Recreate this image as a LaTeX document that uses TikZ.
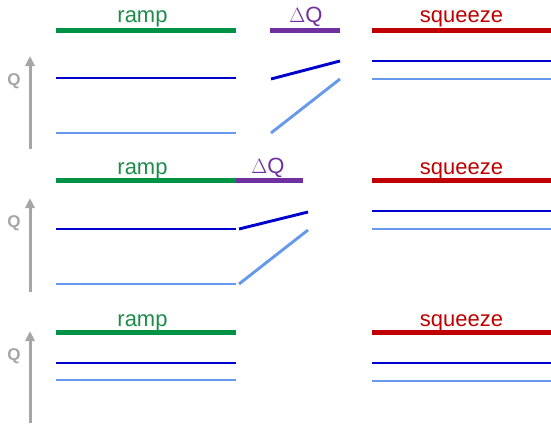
\documentclass[tikz,border=0pt]{standalone}
\usepackage{fontspec}
\setmainfont{Liberation Sans}
\usetikzlibrary{arrows.meta}
\definecolor{rampgreen}{RGB}{0,146,69}
\definecolor{ramptext}{RGB}{30,140,75}
\definecolor{sqred}{RGB}{192,0,0}
\definecolor{dqpurple}{RGB}{112,48,160}
\definecolor{dblue}{RGB}{0,0,204}
\definecolor{lblue}{RGB}{102,153,235}
\definecolor{axgray}{RGB}{166,166,166}
\tikzset{
  bar/.style={line width=5pt},
  hi/.style={dblue, line width=2.9pt},
  lo/.style={lblue, line width=2.9pt},
  qaxis/.style={axgray, line width=3pt, -{Triangle[width=9pt,length=10pt]}},
  lbl/.style={anchor=base, inner sep=0pt, font=\fontsize{22}{22}\selectfont},
  qlbl/.style={axgray, inner sep=0pt, font=\fontsize{17}{17}\selectfont\bfseries},
}
\begin{document}
\begin{tikzpicture}[x=1pt,y=-1pt]
\useasboundingbox (0,0) rectangle (551,423);
% ---------- panel 1 ----------
\draw[bar, rampgreen] (56,30) -- (236,30);
\draw[bar, dqpurple] (270,30) -- (340,30);
\draw[bar, sqred] (372,30) -- (551,30);
\node[lbl, ramptext] (ramp1) at (142.5,23) {ramp};
\node[lbl, dqpurple] (dq1) at (306,23) {$\Delta$Q};
\node[lbl, sqred] (sq1) at (461.5,23) {squeeze};
\draw[hi] (56,78) -- (236,78);
\draw[lo] (56,133) -- (236,133);
\draw[hi] (271,79) -- (340,61);
\draw[lo] (271,133) -- (340,79);
\draw[hi] (372,61) -- (551,61);
\draw[lo] (372,79) -- (551,79);
\draw[qaxis] (30,149) -- (30,56);
\node[qlbl] (q1) at (14,81) {Q};
% ---------- panel 2 ----------
\draw[bar, rampgreen] (56,180) -- (236,180);
\draw[bar, dqpurple] (236,180) -- (303,180);
\draw[bar, sqred] (372,180) -- (551,180);
\node[lbl, ramptext] (ramp2) at (142.5,174) {ramp};
\node[lbl, dqpurple] (dq2) at (268,173) {$\Delta$Q};
\node[lbl, sqred] (sq2) at (461.5,174) {squeeze};
\draw[hi] (56,229) -- (236,229);
\draw[lo] (56,284) -- (236,284);
\draw[hi] (239,229) -- (308,212);
\draw[lo] (239,284) -- (308,230);
\draw[hi] (372,211) -- (551,211);
\draw[lo] (372,229) -- (551,229);
\draw[qaxis] (30,292) -- (30,198);
\node[qlbl] (q2) at (14,223) {Q};
% ---------- panel 3 ----------
\draw[bar, rampgreen] (56,332) -- (236,332);
\draw[bar, sqred] (372,332) -- (551,332);
\node[lbl, ramptext] (ramp3) at (142.5,326) {ramp};
\node[lbl, sqred] (sq3) at (461.5,326) {squeeze};
\draw[hi] (56,363) -- (236,363);
\draw[lo] (56,380) -- (236,380);
\draw[hi] (372,363) -- (551,363);
\draw[lo] (372,381) -- (551,381);
\draw[qaxis] (30,423) -- (30,331);
\node[qlbl] (q3) at (14,356) {Q};
\end{tikzpicture}
\end{document}
